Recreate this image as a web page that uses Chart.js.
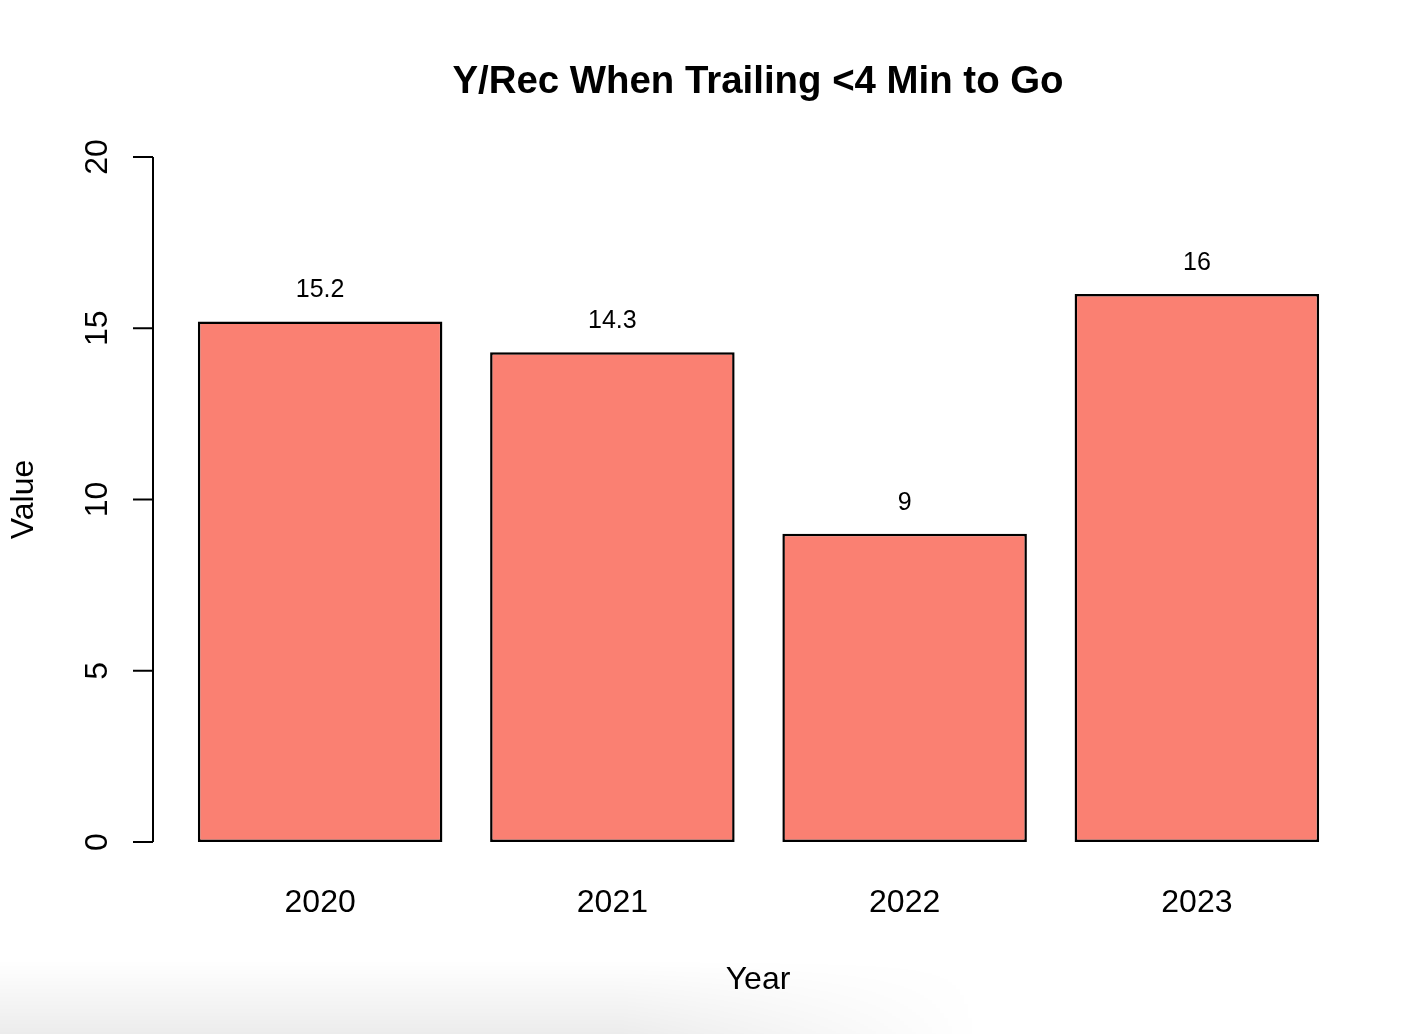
<!DOCTYPE html>
<html>
<head>
<meta charset="utf-8">
<style>
  html, body { margin: 0; padding: 0; background: #ffffff; }
  #wrap { width: 1420px; height: 1034px; }
</style>
<script src="https://cdn.jsdelivr.net/npm/chart.js@4.4.1/dist/chart.umd.min.js"></script>
</head>
<body>
<div id="wrap"><canvas id="c" width="1420" height="1034"></canvas></div>
<script>
// ---- data ----
const years = ['2020', '2021', '2022', '2023'];
const values = [15.2, 14.3, 9, 16];
const yTicks = [0, 5, 10, 15, 20];
const chartTitle = 'Y/Rec When Trailing <4 Min to Go';
const xTitle = 'Year';
const yTitle = 'Value';

const FONT = '"Liberation Sans", Arial, Helvetica, sans-serif';

const shadowPlugin = {
  id: 'shadow',
  beforeDraw(chart) {
    const ctx = chart.ctx;
    ctx.save();
    const g = ctx.createLinearGradient(0, 960, 0, 1034);
    g.addColorStop(0, 'rgba(0,0,0,0)');
    g.addColorStop(1, 'rgba(0,0,0,0.075)');
    ctx.fillStyle = g;
    for (let x = 0; x < 1000; x += 4) {
      let a = x < 620 ? 1 : Math.max(0, 1 - (x - 620) / 360);
      ctx.globalAlpha = a;
      ctx.fillRect(x, 960, 4, 74);
    }
    ctx.restore();
  }
};

const decorPlugin = {
  id: 'decor',
  afterDraw(chart) {
    const ctx = chart.ctx;
    const ca = chart.chartArea;
    const y = chart.scales.y;
    const axisX = ca.left - 21;
    const plotLeft = axisX;
    const plotRight = ca.right + 20;
    const cx = (plotLeft + plotRight) / 2;
    ctx.save();
    ctx.fillStyle = '#000';
    ctx.strokeStyle = '#000';

    // title
    ctx.font = 'bold 38.4px ' + FONT;
    ctx.textAlign = 'center';
    ctx.textBaseline = 'alphabetic';
    ctx.fillText(chartTitle, cx, 93);

    // y axis line and ticks
    ctx.lineWidth = 2;
    ctx.beginPath();
    ctx.moveTo(axisX, y.getPixelForValue(yTicks[0]));
    ctx.lineTo(axisX, y.getPixelForValue(yTicks[yTicks.length - 1]));
    ctx.stroke();
    ctx.font = '32px ' + FONT;
    yTicks.forEach(v => {
      const py = y.getPixelForValue(v);
      ctx.beginPath();
      ctx.moveTo(axisX - 20, py);
      ctx.lineTo(axisX, py);
      ctx.stroke();
      ctx.save();
      ctx.translate(axisX - 46, py);
      ctx.rotate(-Math.PI / 2);
      ctx.textAlign = 'center';
      ctx.textBaseline = 'alphabetic';
      ctx.fillText(String(v), 0, 0);
      ctx.restore();
    });

    // y title
    ctx.save();
    ctx.translate(33, (ca.top + ca.bottom) / 2);
    ctx.rotate(-Math.PI / 2);
    ctx.textAlign = 'center';
    ctx.textBaseline = 'alphabetic';
    ctx.fillText(yTitle, 0, 0);
    ctx.restore();

    // x title
    ctx.textAlign = 'center';
    ctx.textBaseline = 'alphabetic';
    ctx.fillText(xTitle, cx, 989);

    // value labels
    ctx.font = '25px ' + FONT;
    const meta = chart.getDatasetMeta(0);
    meta.data.forEach((bar, i) => {
      ctx.fillText(String(values[i]), bar.x, bar.y - 24);
    });
    ctx.restore();
  }
};

new Chart(document.getElementById('c'), {
  type: 'bar',
  data: {
    labels: years,
    datasets: [{
      data: values,
      backgroundColor: '#FA8072',
      borderColor: '#000000',
      borderWidth: 2.5,
      borderSkipped: false,
      categoryPercentage: 0.8367,
      barPercentage: 1.0
    }]
  },
  plugins: [shadowPlugin, decorPlugin],
  options: {
    responsive: false,
    devicePixelRatio: 1,
    animation: false,
    layout: { padding: { left: 174, right: 77, top: 157, bottom: 0 } },
    plugins: {
      legend: { display: false },
      tooltip: { enabled: false },
      title: { display: false }
    },
    scales: {
      x: {
        type: 'category',
        offset: true,
        grid: { display: false, drawTicks: false },
        border: { display: false },
        ticks: {
          color: '#000',
          font: { family: FONT, size: 32, lineHeight: 1 },
          padding: 45,
          maxRotation: 0,
          minRotation: 0,
          autoSkip: false
        },
        afterFit(scale) { scale.height = 192; }
      },
      y: {
        display: false,
        min: 0,
        max: 20
      }
    }
  }
});
</script>
</body>
</html>
